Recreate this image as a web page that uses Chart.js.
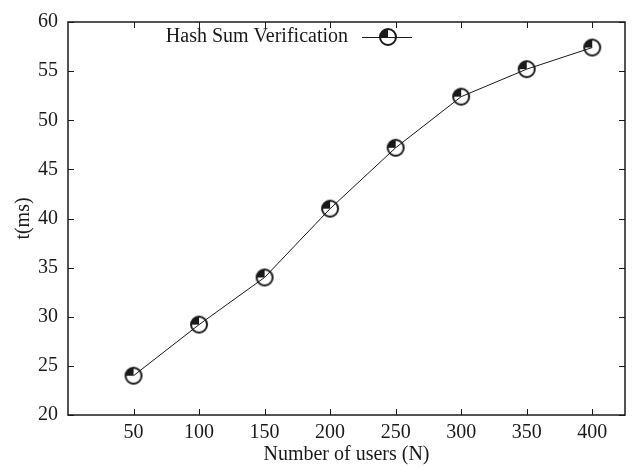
<!DOCTYPE html>
<html>
<head>
<meta charset="utf-8">
<script src="https://cdn.jsdelivr.net/npm/chart.js@4.4.1/dist/chart.umd.min.js"></script>
<style>
html,body{margin:0;padding:0;background:#fff;overflow:hidden;}
#wrap{width:635px;height:467px;}
</style>
</head>
<body>
<div id="wrap"><canvas id="c" width="635" height="467"></canvas></div>
<script>
const users = [50, 100, 150, 200, 250, 300, 350, 400];
const timeMs = [24.0, 29.2, 34.0, 41.0, 47.2, 52.4, 55.2, 57.4];
const seriesName = 'Hash Sum Verification';
const xTicks = [50, 100, 150, 200, 250, 300, 350, 400];
const yTicks = [20, 25, 30, 35, 40, 45, 50, 55, 60];
const xTitle = 'Number of users (N)';
const yTitle = 't(ms)';

const FONT = "'Liberation Serif', 'Times New Roman', serif";
const INK = '#1a1a1a';

function makeMarker() {
  const s = 22, c = s / 2, r = 8;
  const cv = document.createElement('canvas');
  cv.width = s; cv.height = s;
  const g = cv.getContext('2d');
  g.fillStyle = INK;
  g.beginPath();
  g.moveTo(c, c);
  g.arc(c, c, r, Math.PI, 1.5 * Math.PI);
  g.closePath();
  g.fill();
  g.strokeStyle = INK;
  g.lineWidth = 2;
  g.beginPath();
  g.arc(c, c, r, 0, 2 * Math.PI);
  g.stroke();
  return cv;
}
const marker = makeMarker();

const frame = {
  id: 'frame',
  afterDatasetsDraw(chart) {
    const {ctx, chartArea: a, scales: {x, y}} = chart;
    ctx.save();
    ctx.strokeStyle = INK;
    ctx.lineWidth = 1.5;
    ctx.strokeRect(a.left, a.top, a.right - a.left, a.bottom - a.top);
    ctx.lineWidth = 1;
    const L = 6;
    ctx.beginPath();
    xTicks.forEach(v => {
      const px = Math.round(x.getPixelForValue(v)) + 0.5;
      ctx.moveTo(px, a.bottom); ctx.lineTo(px, a.bottom - L);
      ctx.moveTo(px, a.top); ctx.lineTo(px, a.top + L);
    });
    yTicks.forEach(v => {
      const py = Math.round(y.getPixelForValue(v)) + 0.5;
      ctx.moveTo(a.left, py); ctx.lineTo(a.left + L, py);
      ctx.moveTo(a.right, py); ctx.lineTo(a.right - L, py);
    });
    ctx.stroke();
    // legend
    const ly = 37;
    ctx.fillStyle = INK;
    ctx.font = '20px ' + FONT;
    ctx.textAlign = 'right';
    ctx.textBaseline = 'middle';
    ctx.fillText(seriesName, 348, ly);
    ctx.beginPath();
    ctx.moveTo(362, ly + 0.5); ctx.lineTo(412, ly + 0.5);
    ctx.stroke();
    ctx.drawImage(marker, 388 - marker.width / 2, ly - marker.height / 2);
    ctx.restore();
  }
};

new Chart(document.getElementById('c'), {
  type: 'line',
  data: {
    labels: users,
    datasets: [{
      label: seriesName,
      data: users.map((u, i) => ({x: u, y: timeMs[i]})),
      borderColor: INK,
      borderWidth: 1,
      pointStyle: marker,
      pointRadius: 9,
      tension: 0,
      fill: false,
      clip: false
    }]
  },
  options: {
    responsive: false,
    animation: false,
    devicePixelRatio: 1,
    layout: {padding: {top: 17, right: 1, left: 0, bottom: 0}},
    plugins: {legend: {display: false}, tooltip: {enabled: false}},
    scales: {
      x: {
        type: 'linear',
        min: 0, max: 425,
        afterBuildTicks: s => { s.ticks = xTicks.map(v => ({value: v})); },
        afterFit: s => { s.height = 52; },
        grid: {display: false, drawTicks: false},
        border: {display: false},
        ticks: {font: {family: FONT, size: 20}, color: INK, padding: 6, maxRotation: 0, autoSkip: false},
        title: {display: true, text: xTitle, font: {family: FONT, size: 20}, color: INK, padding: {top: 0, bottom: 0}}
      },
      y: {
        min: 20, max: 60,
        afterBuildTicks: s => { s.ticks = yTicks.map(v => ({value: v})); },
        afterFit: s => { s.width = 68; },
        grid: {display: false, drawTicks: false},
        border: {display: false},
        ticks: {font: {family: FONT, size: 20}, color: INK, padding: 10},
        title: {display: true, text: yTitle, font: {family: FONT, size: 20}, color: INK, padding: {top: 12, bottom: 0}}
      }
    }
  },
  plugins: [frame]
});
</script>
</body>
</html>
